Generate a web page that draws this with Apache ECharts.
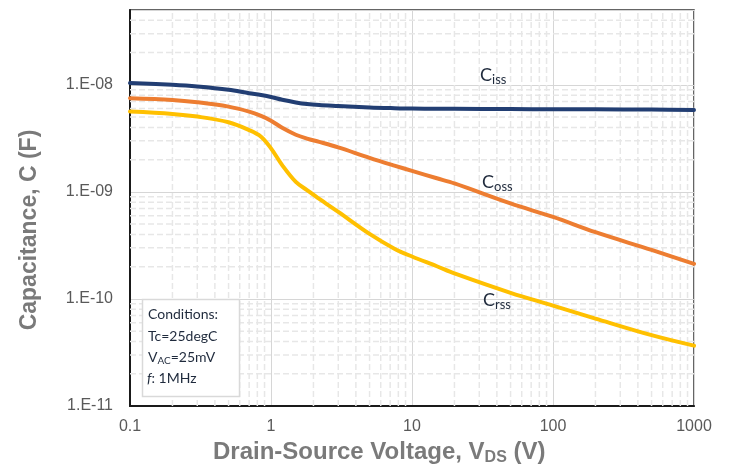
<!DOCTYPE html>
<html>
<head>
<meta charset="utf-8">
<script src="https://cdn.jsdelivr.net/npm/echarts@6/dist/echarts.min.js"></script>
<style>html,body{margin:0;padding:0;background:#fff;}#c{width:732px;height:465px;}</style>
</head>
<body>
<div id="c"></div>
<script>
const voltage = [0.1, 0.2, 0.3, 0.5, 0.7, 0.85, 1, 1.2, 1.5, 1.8, 2.2, 3, 5, 7.5, 10, 15, 20, 50, 100, 200, 500, 1000];
const ciss = [1.04e-8, 1.0e-8, 0.965e-8, 0.9e-8, 0.835e-8, 0.805e-8, 0.77e-8, 0.725e-8, 0.685e-8, 0.662e-8, 0.648e-8, 0.635e-8, 0.615e-8, 0.605e-8, 0.60e-8, 0.598e-8, 0.597e-8, 0.594e-8, 0.592e-8, 0.59e-8, 0.587e-8, 0.583e-8];
const coss = [7.5e-9, 7.23e-9, 6.88e-9, 6.26e-9, 5.62e-9, 5.12e-9, 4.62e-9, 3.97e-9, 3.42e-9, 3.15e-9, 2.93e-9, 2.6e-9, 2.08e-9, 1.76e-9, 1.57e-9, 1.34e-9, 1.2e-9, 7.8e-10, 5.83e-10, 4.2e-10, 2.87e-10, 2.13e-10];
const crss = [5.62e-9, 5.35e-9, 5.05e-9, 4.47e-9, 3.78e-9, 3.28e-9, 2.55e-9, 1.78e-9, 1.24e-9, 1.04e-9, 8.6e-10, 6.5e-10, 4.05e-10, 2.95e-10, 2.49e-10, 2.02e-10, 1.73e-10, 1.14e-10, 8.67e-11, 6.56e-11, 4.59e-11, 3.66e-11];
const xTickLabels = ['0.1', '1', '10', '100', '1000'];
const yTickLabels = ['1.E-11', '1.E-10', '1.E-09', '1.E-08'];
const xRange = [0.1, 1000];
const yRange = [1e-11, 5e-8];
const minorMultipliers = [2, 3, 4, 5, 6, 7, 8, 9];

// minor grid positions (2..9 times each decade)
const minorX = [], minorY = [];
for (let e = -1; e <= 2; e++) minorMultipliers.forEach(k => minorX.push(+(k * Math.pow(10, e)).toPrecision(3)));
for (let e = -11; e <= -8; e++) minorMultipliers.forEach(k => { const v = +(k * Math.pow(10, e)).toPrecision(3); if (v < yRange[1]) minorY.push(v); });

function decadeIndex(v, base) {
  const l = Math.log10(v);
  const e = Math.round(l);
  if (Math.abs(l - e) > 1e-6) return -1;
  return e - base;
}

const chart = echarts.init(document.getElementById('c'), null, {renderer: 'canvas'});
const pairs = arr => voltage.map((v, i) => [v, arr[i]]);
const lineColors = {ciss: '#223e73', coss: '#ed7d31', crss: '#ffc000'};
const labelFont = 'Liberation Sans';
const noteFont = 'Lato';
const noteColor = '#1f2a3c';

const minorStyle = {color: '#e7e7e7', width: 1.5, type: [6, 3]};
const gridSeries = minorX.map(v => ({
  type: 'line', data: [[v, yRange[0]], [v, yRange[1]]], silent: true, z: 1, zlevel: 0,
  showSymbol: false, symbol: 'none', lineStyle: minorStyle
})).concat(minorY.map(v => ({
  type: 'line', data: [[xRange[0], v], [xRange[1], v]], silent: true, z: 1, zlevel: 0,
  showSymbol: false, symbol: 'none', lineStyle: minorStyle
})));

const curve = (name, arr, color, z) => ({
  name, type: 'line', data: pairs(arr), smooth: 0.35,
  showSymbol: false, symbol: 'none', z, zlevel: 1, lineStyle: {color, width: 4, cap: 'round', join: 'round'}, itemStyle: {color}
});

const subLabel = (text, sub, x, y) => ({
  type: 'text', x, y, z: 10, zlevel: 2,
  style: {text: text + '{s|' + sub + '}', fill: noteColor, font: '18px "Lato"', verticalAlign: 'middle',
    rich: {s: {fontFamily: noteFont, fontSize: 13, fill: noteColor, padding: [10, 0, 0, 0]}}}
});

chart.setOption({
  animation: false,
  backgroundColor: '#ffffff',
  grid: {left: 130, right: 38, top: 10, bottom: 59, show: true, borderColor: '#333333', borderWidth: 1.5, backgroundColor: '#ffffff'},
  xAxis: {
    type: 'log', logBase: 10, min: xRange[0], max: xRange[1],
    axisLine: {show: true, lineStyle: {color: '#1a1a1a', width: 2}},
    axisTick: {show: false},
    splitLine: {show: true, lineStyle: {color: '#d6d6d6', width: 1}},
    axisLabel: {
      color: '#595959', fontFamily: labelFont, fontSize: 16, margin: 13,
      formatter: v => { const i = decadeIndex(v, -1); return i >= 0 && i < xTickLabels.length ? xTickLabels[i] : ''; }
    }
  },
  yAxis: {
    type: 'log', logBase: 10, min: yRange[0], max: yRange[1],
    axisLine: {show: true, lineStyle: {color: '#1a1a1a', width: 2}},
    axisTick: {show: false},
    splitLine: {show: true, lineStyle: {color: '#d6d6d6', width: 1}},
    axisLabel: {
      color: '#595959', fontFamily: labelFont, fontSize: 16, margin: 17, showMaxLabel: false,
      formatter: v => { const i = decadeIndex(v, -11); return i >= 0 && i < yTickLabels.length ? yTickLabels[i] : ''; }
    }
  },
  series: gridSeries.concat([
    curve('Ciss', ciss, lineColors.ciss, 5),
    curve('Coss', coss, lineColors.coss, 4),
    curve('Crss', crss, lineColors.crss, 3)
  ]),
  graphic: [
    {type: 'text', x: 30, y: 230, rotation: Math.PI / 2, style: {text: 'Capacitance, C (F)', font: 'bold 23px "Liberation Sans"', fill: '#7a7a7a', align: 'center', verticalAlign: 'middle'}},
    {type: 'text', x: 213, y: 452, style: {
      text: 'Drain-Source Voltage, V{sub|DS} (V)', fill: '#7a7a7a', align: 'left', verticalAlign: 'middle',
      font: 'bold 24px "Liberation Sans"',
      rich: {sub: {fontFamily: labelFont, fontWeight: 'bold', fontSize: 16, fill: '#7a7a7a', padding: [12, 0, 0, 0]}}
    }},
    subLabel('C', 'iss', 480, 75),
    subLabel('C', 'oss', 482, 182),
    subLabel('C', 'rss', 483, 300),
    {type: 'rect', z: 10, zlevel: 2, shape: {x: 142.5, y: 299.5, width: 97, height: 97}, style: {fill: '#ffffff', stroke: '#d9d9d9', lineWidth: 1.5}},
    {type: 'text', x: 148, y: 314, z: 11, zlevel: 2, style: {text: 'Conditions:', font: '14px "Lato"', fill: noteColor, verticalAlign: 'middle'}},
    {type: 'text', x: 148, y: 336, z: 11, zlevel: 2, style: {text: 'Tc=25degC', font: '14px "Lato"', fill: noteColor, verticalAlign: 'middle'}},
    {type: 'text', x: 148, y: 357, z: 11, zlevel: 2, style: {text: 'V{s|AC}=25mV', font: '14px "Lato"', fill: noteColor, verticalAlign: 'middle', rich: {s: {fontFamily: noteFont, fontSize: 10, fill: noteColor, padding: [8, 0, 0, 0]}}}},
    {type: 'text', x: 147, y: 378, z: 11, zlevel: 2, style: {text: '{i|f}: 1MHz', font: '14px "Lato"', fill: noteColor, verticalAlign: 'middle', rich: {i: {fontFamily: noteFont, fontStyle: 'italic', fontSize: 14, fill: noteColor}}}}
  ]
});
</script>
</body>
</html>
